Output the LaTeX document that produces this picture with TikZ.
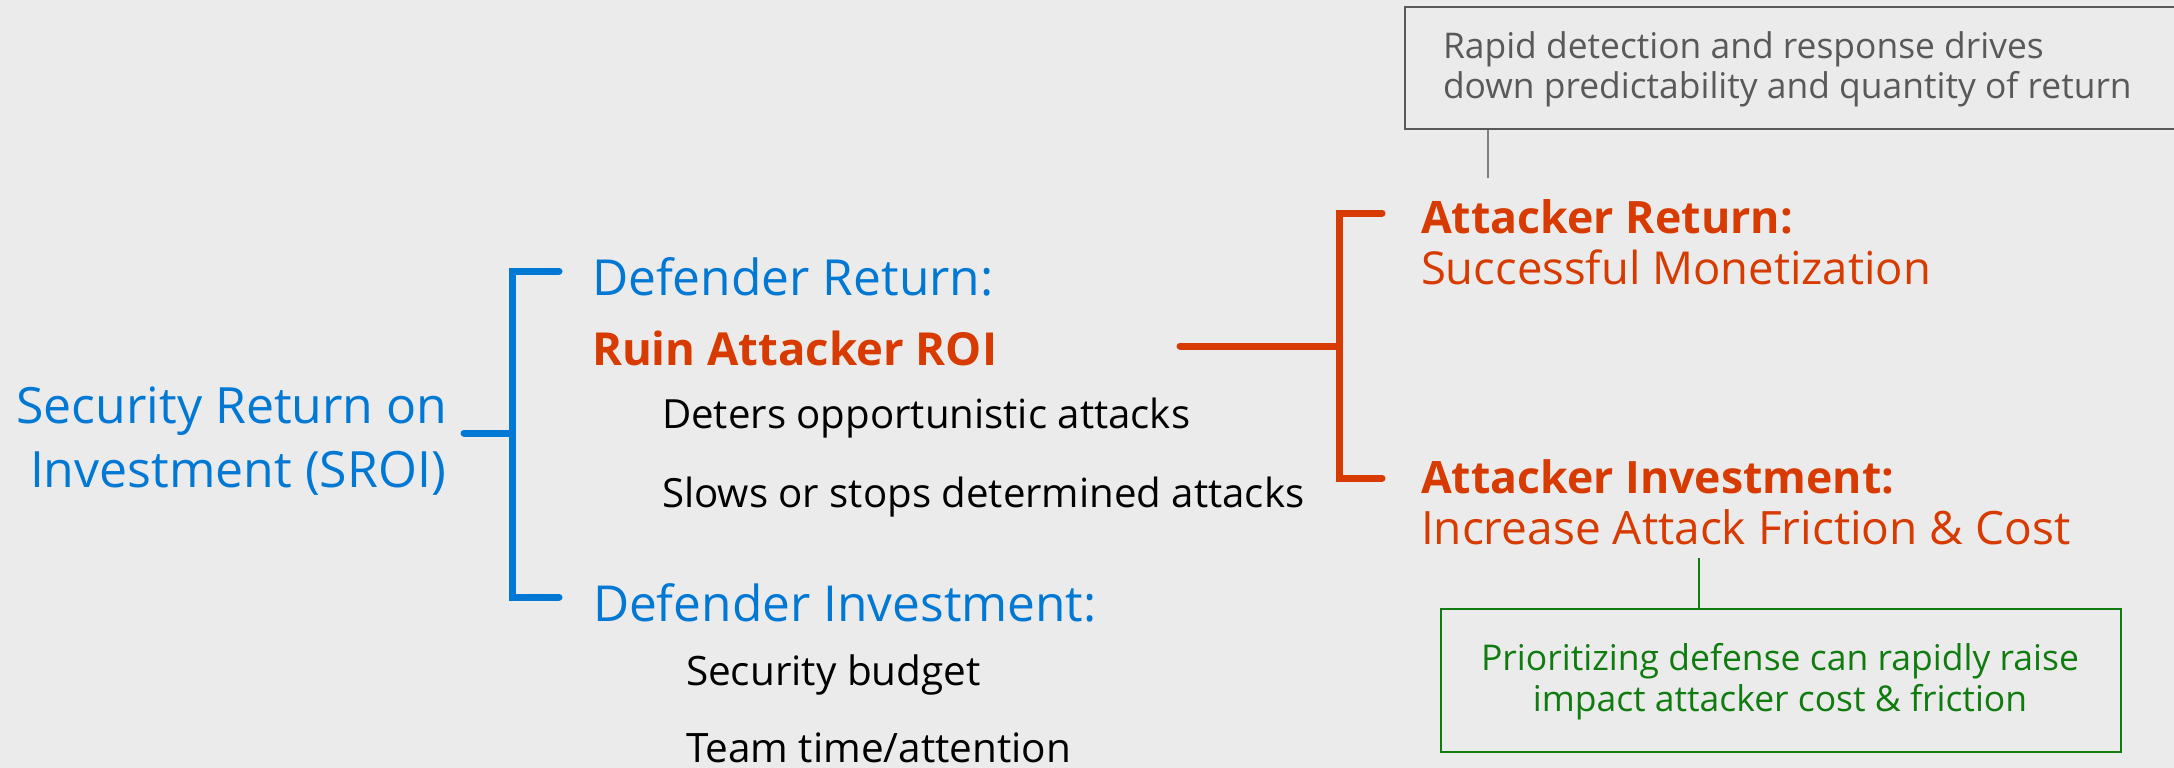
\documentclass[tikz,border=0pt]{standalone}
\usepackage{fontspec}
\setmainfont{Open Sans}
\definecolor{pagebg}{HTML}{EBEBEB}
\definecolor{msblue}{HTML}{0078D4}
\definecolor{msorange}{HTML}{D83B01}
\definecolor{msgreen}{HTML}{107C10}
\definecolor{notegray}{HTML}{595959}
\definecolor{linegray}{HTML}{7F7F7F}
\newcommand{\fsz}[1]{\fontsize{#1}{#1}\selectfont}
\tikzset{
  txt/.style={anchor=base west, inner sep=0pt, outer sep=0pt},
  ctxt/.style={anchor=base, inner sep=0pt, outer sep=0pt},
  bluebr/.style={draw=msblue, line width=7pt, line cap=round, line join=miter},
  orangebr/.style={draw=msorange, line width=7pt, line cap=round, line join=miter},
  notebox/.style={draw=#1, line width=2pt, inner sep=0pt, anchor=north west},
  callout/.style={draw=#1, line width=2pt},
}
\begin{document}
\begin{tikzpicture}[x=1pt, y=-1pt]
  \useasboundingbox (0,0) rectangle (2174,768);
  \fill[pagebg] (0,0) rectangle (2174,768);

  % root label
  \node[ctxt, text=msblue, font=\fsz{50}] (sroiA) at (232,423) {Security Return on};
  \node[ctxt, text=msblue, font=\fsz{50}] (sroiB) at (238,487) {Investment (SROI)};

  % defender side
  \node[txt, text=msblue, font=\fsz{49.7}] (dret) at (592,295) {Defender Return:};
  \node[txt, text=msorange, font=\bfseries\fsz{45.5}] (ruin) at (592,365) {Ruin Attacker ROI};
  \node[txt, font=\fsz{40.2}] (deter) at (662,428) {Deters opportunistic attacks};
  \node[txt, font=\fsz{40.2}] (slows) at (662,507) {Slows or stops determined attacks};
  \node[txt, text=msblue, font=\fsz{49.6}] (dinv) at (593,621) {Defender Investment:};
  \node[txt, font=\fsz{40.5}] (budget) at (686,685) {Security budget};
  \node[txt, font=\fsz{40.5}] (team) at (686,762) {Team time/attention};

  % attacker side
  \node[txt, text=msorange, font=\bfseries\fsz{44.7}] (aret) at (1421,233) {Attacker Return:};
  \node[txt, text=msorange, font=\fsz{45.4}] (amon) at (1421,284) {Successful Monetization};
  \node[txt, text=msorange, font=\bfseries\fsz{44.6}] (ainv) at (1421,493) {Attacker Investment:};
  \node[txt, text=msorange, font=\fsz{46}] (afric) at (1421,544) {Increase Attack Friction \& Cost};

  % blue bracket
  \coordinate (bTop) at (512,271);
  \coordinate (bBot) at (512,597);
  \coordinate (bMid) at (512,433);
  \coordinate (bStem) at (464,433);
  \draw[bluebr] (559,271) -- (bTop) -- (bBot) -- (559,597);
  \draw[bluebr] (bStem) -- (bMid);

  % orange bracket
  \coordinate (oTop) at (1339,213);
  \coordinate (oBot) at (1339,478);
  \coordinate (oMid) at (1339,346);
  \coordinate (oStem) at (1180,346);
  \draw[orangebr] (1382,213) -- (oTop) -- (oBot) -- (1382,478);
  \draw[orangebr] (oStem) -- (oMid);

  % note on detection
  \node[notebox=notegray, minimum width=820pt, minimum height=122pt] (det) at (1404,6) {};
  \node[txt, text=notegray, font=\fsz{35.4}] (detA) at (1443,59) {Rapid detection and response drives};
  \node[txt, text=notegray, font=\fsz{35.4}] (detB) at (1443,99) {down predictability and quantity of return};
  \coordinate (detFoot) at (1488,178);
  \draw[callout=linegray] (detFoot |- det.south) -- (detFoot);

  % note on prioritization
  \node[notebox=msgreen, minimum width=680pt, minimum height=143pt] (pri) at (1440,608) {};
  \node[ctxt, text=msgreen, font=\fsz{35.5}] (priA) at (1780,670) {Prioritizing defense can rapidly raise};
  \node[ctxt, text=msgreen, font=\fsz{35.5}] (priB) at (1780,711) {impact attacker cost \& friction};
  \coordinate (priHead) at (1699,558);
  \draw[callout=msgreen] (priHead) -- (priHead |- pri.north);
\end{tikzpicture}
\end{document}
